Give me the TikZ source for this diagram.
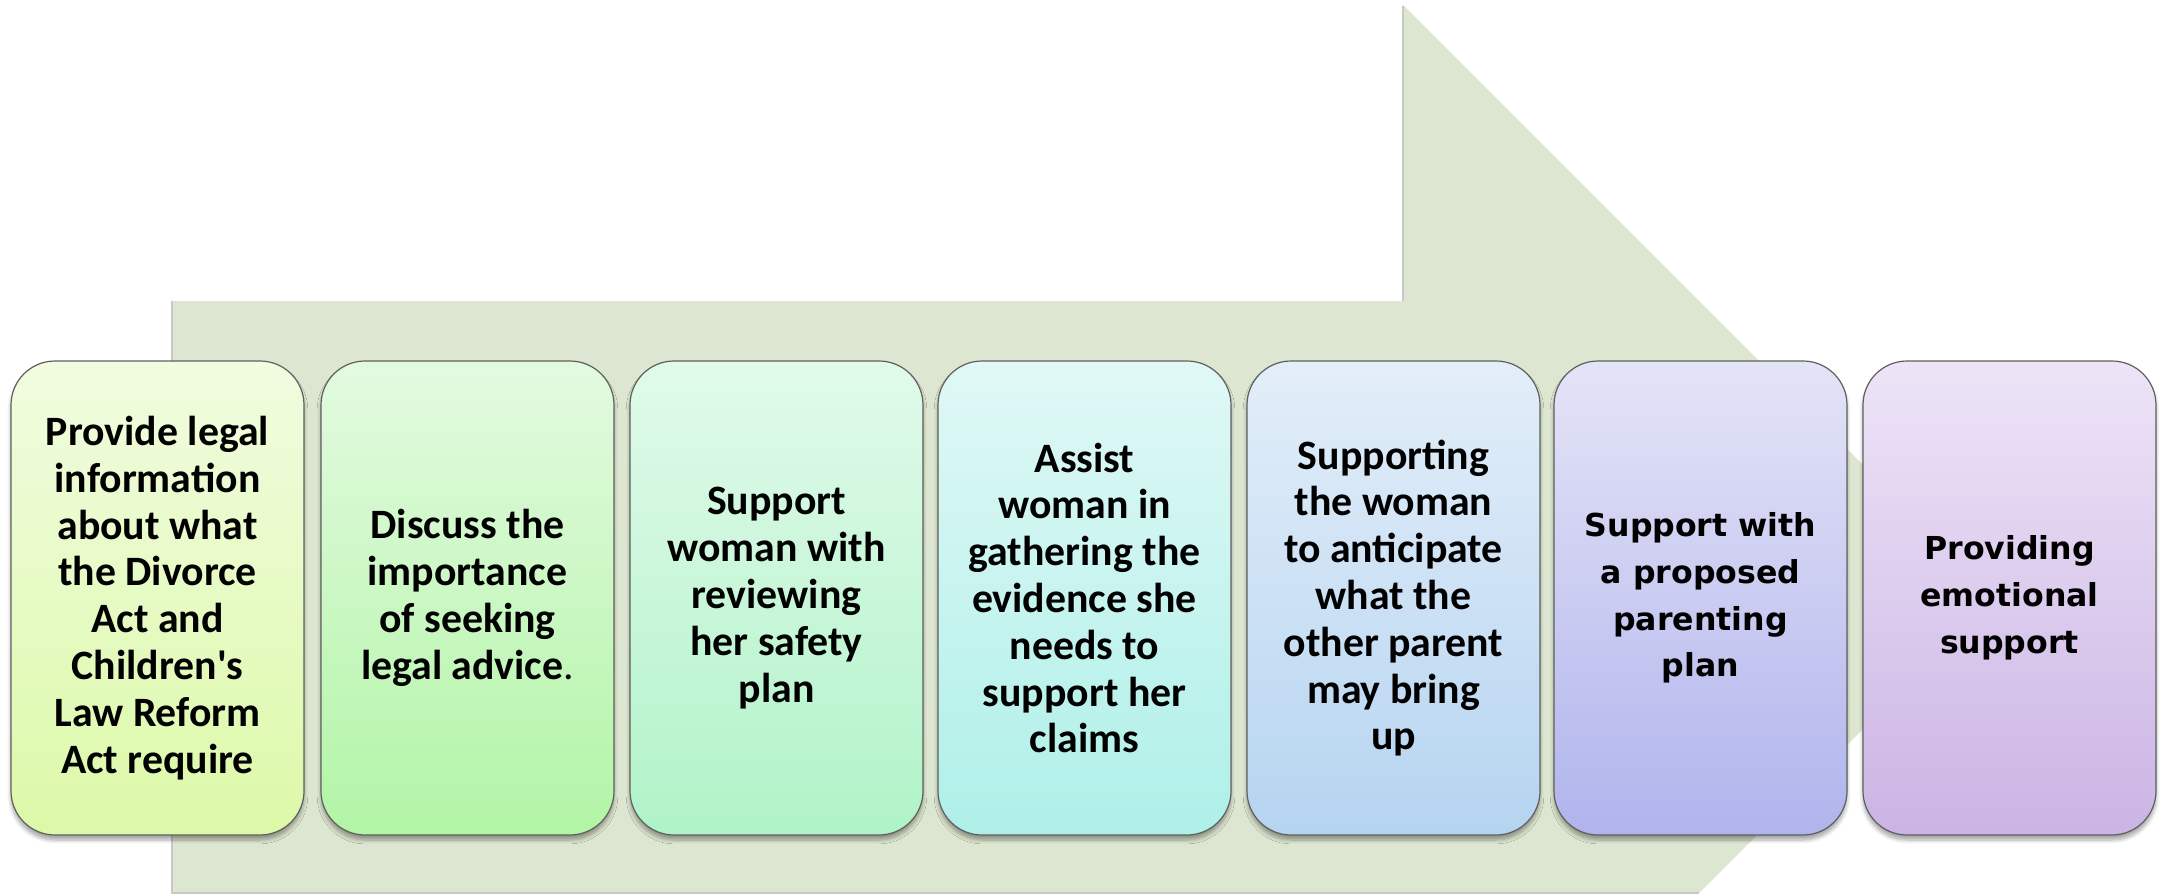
\documentclass[tikz,border=0pt]{standalone}
\usepackage{fontspec}
\setmainfont{Carlito}
\newfontfamily\dvfont{DejaVu Sans}
\usetikzlibrary{shadows.blur}
\definecolor{arrowfill}{RGB}{221,230,208}
\definecolor{arrowedge}{RGB}{200,200,200}
\definecolor{boxedge}{RGB}{95,95,95}
\definecolor{tA}{RGB}{241,252,224}\definecolor{bA}{RGB}{220,249,168}
\definecolor{tB}{RGB}{227,250,224}\definecolor{bB}{RGB}{178,245,166}
\definecolor{tC}{RGB}{225,250,234}\definecolor{bC}{RGB}{176,243,200}
\definecolor{tD}{RGB}{224,248,246}\definecolor{bD}{RGB}{174,240,232}
\definecolor{tE}{RGB}{227,238,249}\definecolor{bE}{RGB}{181,212,240}
\definecolor{tF}{RGB}{228,228,247}\definecolor{bF}{RGB}{176,180,236}
\definecolor{tG}{RGB}{237,228,247}\definecolor{bG}{RGB}{203,180,228}
\tikzset{
  stepcard/.style={draw=boxedge, line width=0.6pt, rounded corners=22pt,
    minimum width=146.5pt, minimum height=237pt, align=center, inner sep=0pt,
    blur shadow={shadow xshift=0pt, shadow yshift=-2.5pt, shadow blur steps=6, shadow opacity=35}},
  cal/.style={font=\bfseries\fontsize{20.9}{23.4}\selectfont},
  dvs/.style={font=\dvfont\bfseries\fontsize{15.8}{23.4}\selectfont},
}
\begin{document}
\begin{tikzpicture}[x=0.5pt,y=-0.5pt]
\useasboundingbox (0,0) rectangle (2160,894);
\begin{scope}
\clip (0,0) rectangle (2160,894);
\fill[arrowfill] (172,301) -- (1403,301) -- (1403,5) -- (1995,597) -- (1403,1189) -- (1403,893) -- (172,893) -- cycle;
\end{scope}
\coordinate (a1) at (172,301);
\coordinate (a2) at (172,893);
\coordinate (a3) at (1699,893);
\coordinate (a4) at (1403,6);
\coordinate (a5) at (1403,301);
\draw[arrowedge, line width=1pt] (a1) -- (a2) -- (a3);
\draw[arrowedge, line width=1pt] (a4) -- (a5);

\node[stepcard, cal, top color=tA, bottom color=bA] (n1) at (157.5,598)
  {Provide legal\\information\\about what\\the Divorce\\Act and\\Children\textquotesingle s\\Law Reform\\Act require};
\node[stepcard, cal, top color=tB, bottom color=bB] (n2) at (467.5,598)
  {Discuss the\\importance\\of seeking\\legal advice\textmd{.}};
\node[stepcard, cal, top color=tC, bottom color=bC] (n3) at (776.5,598)
  {Support\\woman with\\reviewing\\her safety\\plan};
\node[stepcard, cal, top color=tD, bottom color=bD] (n4) at (1084.5,598)
  {Assist\\woman in\\gathering the\\evidence she\\needs to\\support her\\claims};
\node[stepcard, cal, top color=tE, bottom color=bE] (n5) at (1393.5,598)
  {Supporting\\the woman\\to anticipate\\what the\\other parent\\may bring\\up};
\node[stepcard, dvs, top color=tF, bottom color=bF] (n6) at (1700.5,598)
  {Support with\\a proposed\\parenting\\plan};
\node[stepcard, dvs, top color=tG, bottom color=bG] (n7) at (2009.5,598)
  {Providing\\emotional\\support};
\end{tikzpicture}
\end{document}
